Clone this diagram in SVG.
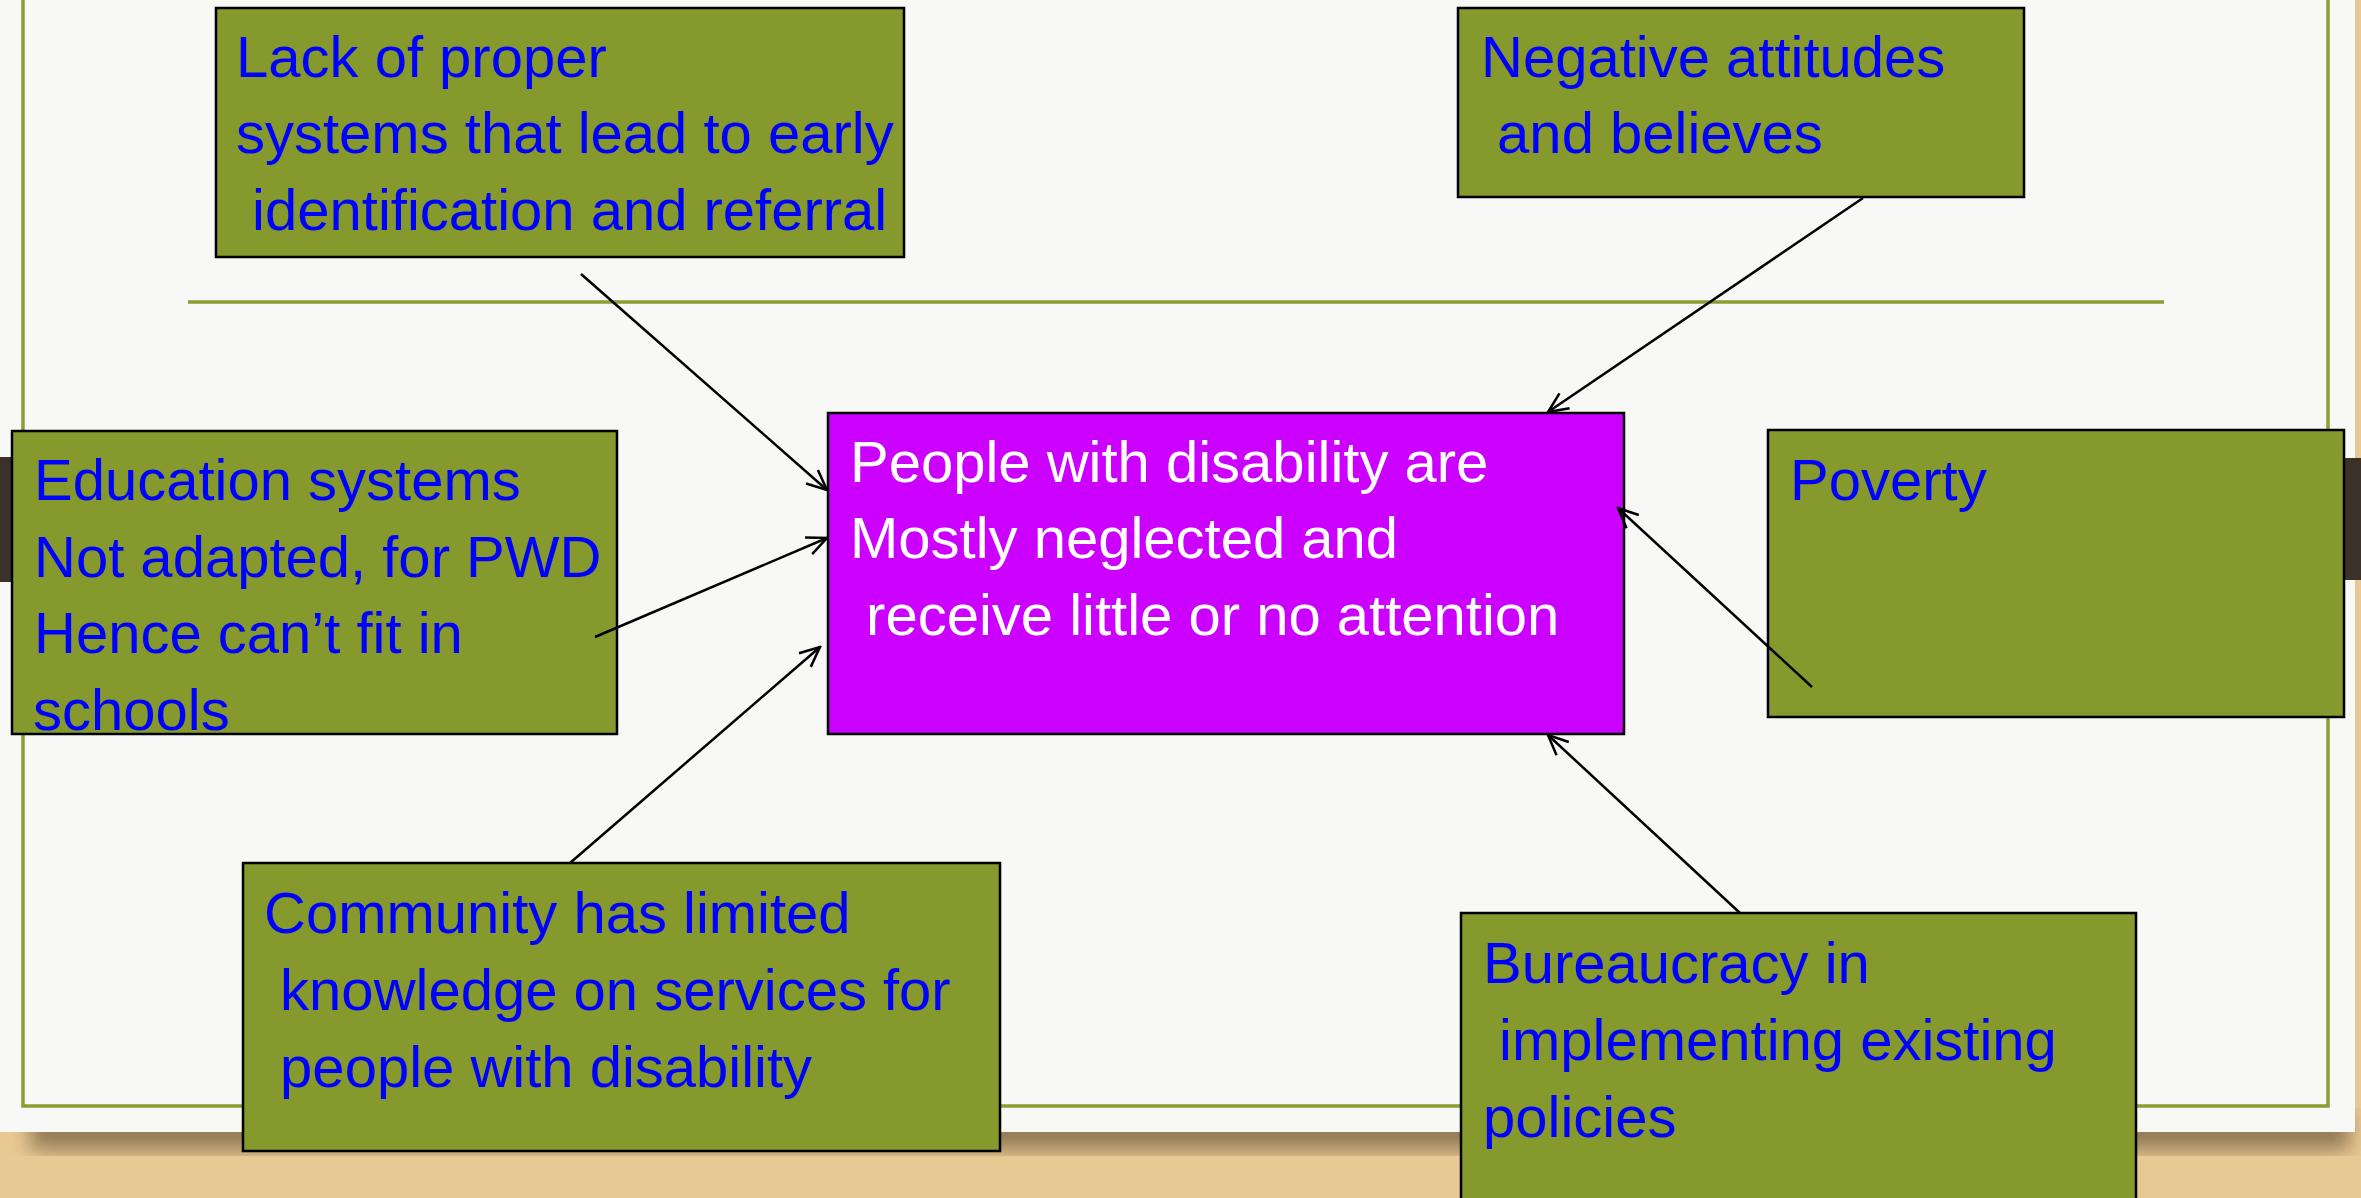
<svg xmlns="http://www.w3.org/2000/svg" width="2361" height="1198" viewBox="0 0 2361 1198">
<style>
.box{fill:#85992c;stroke:#000;stroke-width:2.5}
.core{fill:#cc00ff;stroke:#000;stroke-width:2.5}
.t{font-family:"Liberation Sans",Arial,sans-serif;font-size:58px;fill:#0000ff}
.w{fill:#ffffff}
.con{stroke:#000;stroke-width:2.5;fill:none;marker-end:url(#arr)}
</style>
<defs>
<marker id="arr" markerUnits="userSpaceOnUse" viewBox="-22 -12 24 24" refX="0" refY="0" markerWidth="24" markerHeight="24" orient="auto">
<path d="M-20,-9 L0,0 L-20,9" fill="none" stroke="#000" stroke-width="2.5"/>
</marker>
<filter id="sh" x="-5%" y="-5%" width="110%" height="120%">
<feGaussianBlur stdDeviation="10"/>
</filter>
</defs>
<g id="background">
<rect x="0" y="0" width="2361" height="1198" fill="#e9c993"/>
<rect x="30" y="1110" width="2320" height="40" fill="#6e5a3c" opacity="0.7" filter="url(#sh)"/>
<rect x="0" y="0" width="2355" height="1132" fill="#f8f8f7"/>
<rect x="0" y="457" width="12" height="125" fill="#3b3129"/>
<rect x="2345" y="458" width="16" height="122" fill="#3b3129"/>
<rect x="23" y="-10" width="2305" height="1116" fill="none" stroke="#8a9d32" stroke-width="3.5"/>
<line x1="188" y1="302" x2="2164" y2="302" stroke="#8a9d32" stroke-width="3.5"/>
</g>
<g id="node-lack">
<rect class="box" x="216" y="8" width="688" height="249"/>
<text class="t" x="236" y="77">Lack of proper</text>
<text class="t" x="236" y="153">systems that lead to early</text>
<text class="t" x="236" y="230" xml:space="preserve"> identification and referral</text>
</g>
<g id="node-negative">
<rect class="box" x="1458" y="8" width="566" height="189"/>
<text class="t" x="1481" y="77">Negative attitudes</text>
<text class="t" x="1481" y="153" xml:space="preserve"> and believes</text>
</g>
<g id="node-education">
<rect class="box" x="12" y="431" width="605" height="303"/>
<text class="t" x="34" y="500">Education systems</text>
<text class="t" x="34" y="577">Not adapted, for PWD</text>
<text class="t" x="34" y="653">Hence can’t fit in</text>
<text class="t" x="33" y="730">schools</text>
</g>
<g id="node-center">
<rect class="core" x="828" y="413" width="796" height="321"/>
<text class="t w" x="850" y="482">People with disability are</text>
<text class="t w" x="850" y="558">Mostly neglected and</text>
<text class="t w" x="850" y="635" xml:space="preserve"> receive little or no attention</text>
</g>
<g id="node-poverty">
<rect class="box" x="1768" y="430" width="576" height="287"/>
<text class="t" x="1790" y="500">Poverty</text>
</g>
<g id="node-community">
<rect class="box" x="243" y="863" width="757" height="288"/>
<text class="t" x="264" y="933">Community has limited</text>
<text class="t" x="264" y="1010" xml:space="preserve"> knowledge on services for</text>
<text class="t" x="264" y="1087" xml:space="preserve"> people with disability</text>
</g>
<g id="node-bureaucracy">
<rect class="box" x="1461" y="913" width="675" height="300"/>
<text class="t" x="1483" y="983">Bureaucracy in</text>
<text class="t" x="1483" y="1060" xml:space="preserve"> implementing existing</text>
<text class="t" x="1483" y="1137">policies</text>
</g>
<g id="connectors">
<line class="con" x1="581" y1="274" x2="827" y2="490"/>
<line class="con" x1="1863" y1="198" x2="1548" y2="412"/>
<line class="con" x1="595" y1="637" x2="827" y2="538"/>
<line class="con" x1="570" y1="863" x2="820" y2="647"/>
<line class="con" x1="1812" y1="687" x2="1618" y2="508"/>
<line class="con" x1="1740" y1="913" x2="1548" y2="735"/>
</g>
</svg>
